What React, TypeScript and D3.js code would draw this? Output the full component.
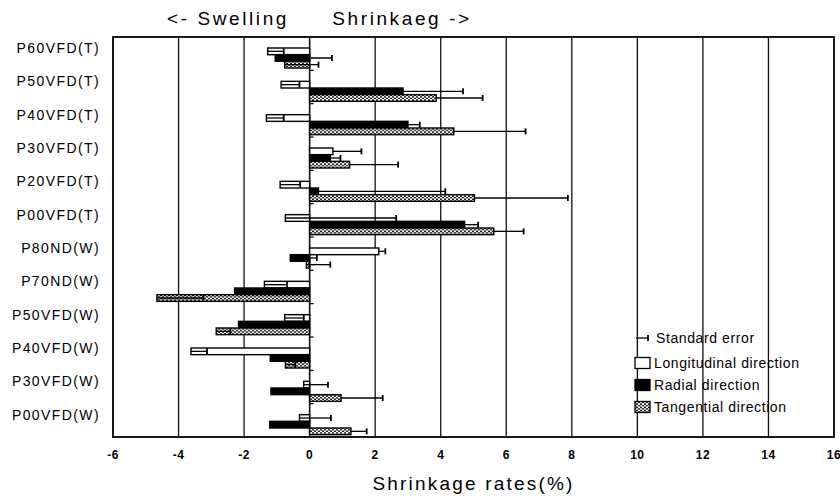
import React from 'react';
import * as d3 from 'd3';

const categories = ['P60VFD(T)', 'P50VFD(T)', 'P40VFD(T)', 'P30VFD(T)', 'P20VFD(T)', 'P00VFD(T)',
  'P80ND(W)', 'P70ND(W)', 'P50VFD(W)', 'P40VFD(W)', 'P30VFD(W)', 'P00VFD(W)'];
const longitudinal = [-1.28, -0.87, -1.32, 0.71, -0.9, -0.74, 2.11, -1.38, -0.76, -3.62, -0.18, -0.31];
const longitudinalErr = [0.49, 0.56, 0.53, 0.87, 0.61, 3.38, 0.2, 0.69, 0.58, 0.49, 0.74, 0.96];
const radial = [-1.05, 2.85, 3.0, 0.63, 0.27, 4.73, -0.59, -2.29, -2.17, -1.2, -1.18, -1.22];
const radialErr = [1.73, 1.83, 0.36, 0.31, 3.87, 0.41, 0.81, 0.5, 0.4, 0.5, 0.3, 0.3];
const tangential = [-0.76, 3.86, 4.4, 1.22, 5.03, 5.62, -0.1, -4.66, -2.85, -0.74, 0.96, 1.26];
const tangentialErr = [1.03, 1.42, 2.19, 1.48, 2.85, 0.91, 0.73, 1.42, 0.43, 0.3, 1.27, 0.48];
const xTicks = [-6, -4, -2, 0, 2, 4, 6, 8, 10, 12, 14, 16];
const seriesNames = ['Longitudinal direction', 'Radial direction', 'Tangential direction'];

const W = 840, H = 496;
const margin = { left: 113, right: 6, top: 37, bottom: 59 };
const font = '"Liberation Sans", Arial, sans-serif';

export default function App() {
  const x = d3.scaleLinear().domain([-6, 16]).range([margin.left, W - margin.right]);
  const y = d3.scaleBand().domain(categories).range([margin.top, H - margin.bottom]);
  const bw = y.bandwidth();
  // bars sit in the lower part of each band
  const sub = d3.scaleBand().domain(seriesNames).range([bw * 0.33, bw * 0.93]);
  const fills = ['#fff', '#000', 'url(#dots)'];
  const series = [
    { name: seriesNames[0], values: longitudinal, err: longitudinalErr },
    { name: seriesNames[1], values: radial, err: radialErr },
    { name: seriesNames[2], values: tangential, err: tangentialErr },
  ];
  const x0 = x(0);
  const top = margin.top, bottom = H - margin.bottom;

  return (
    <svg width={W} height={H} style={{ position: 'absolute', left: 0, top: 0, background: '#fff' }}
      fontFamily={font}>
      <defs>
        <pattern id="dots" width="4" height="3.2" patternUnits="userSpaceOnUse">
          <rect width="4" height="3.2" fill="#fff" />
          <circle cx="1" cy="1" r="1" fill="#111" />
          <circle cx="3" cy="2.6" r="1" fill="#111" />
        </pattern>
      </defs>

      {/* title */}
      <text x={228} y={25} fontSize={19} textAnchor="middle" letterSpacing={2.6}>{'<- Swelling'}</text>
      <text x={402} y={25} fontSize={19} textAnchor="middle" letterSpacing={2.6}>{'Shrinkaeg ->'}</text>

      {/* grid */}
      {xTicks.filter(t => t > -6 && t < 16).map(t => (
        <line key={t} x1={x(t)} x2={x(t)} y1={top} y2={bottom} stroke="#111" strokeWidth={t === 0 ? 1.6 : 1.3} />
      ))}
      <rect x={margin.left} y={top} width={x(16) - margin.left} height={bottom - top}
        fill="none" stroke="#000" strokeWidth={1.8} />

      {/* small ticks on zero line */}
      {categories.slice(0, -1).map(c => (
        <line key={c} x1={x0} x2={x0 + 4} y1={(y(c) as number) + bw} y2={(y(c) as number) + bw} stroke="#000" strokeWidth={1.2} />
      ))}

      {/* bars */}
      {series.map((s, si) => s.values.map((v, i) => {
        const c = categories[i];
        const by = (y(c) as number) + (sub(s.name) as number);
        const bh = sub.bandwidth();
        const xa = x(Math.min(0, v)), xb = x(Math.max(0, v));
        const e1 = x(v), e2 = x(v + s.err[i]);
        const my = by + bh / 2;
        return (
          <g key={si + '-' + i}>
            <rect x={xa} y={by} width={xb - xa} height={bh} fill={fills[si]} stroke="#000" strokeWidth={1.4} />
            <line x1={e1} x2={e2} y1={my} y2={my} stroke="#000" strokeWidth={1.3} />
            <line x1={e2} x2={e2} y1={my - 3} y2={my + 3} stroke="#000" strokeWidth={1.8} />
          </g>
        );
      }))}

      {/* y labels */}
      {categories.map(c => (
        <text key={c} x={100} y={(y(c) as number) + 11} dy="0.35em" fontSize={14} textAnchor="end" letterSpacing={1.4}>{c}</text>
      ))}

      {/* x tick labels */}
      {xTicks.map(t => (
        <text key={t} x={x(t)} y={459} fontSize={12} fontWeight="bold" textAnchor="middle" letterSpacing={0.5}>{t < 0 ? '-' + Math.abs(t) : t}</text>
      ))}
      <text x={x(5)} y={490} fontSize={19} textAnchor="middle" letterSpacing={2.2}>Shrinkage rates(%)</text>

      {/* legend */}
      <g fontSize={14} letterSpacing={0.6}>
        <line x1={636} x2={648} y1={338} y2={338} stroke="#000" strokeWidth={1.3} />
        <line x1={648} x2={648} y1={335} y2={341} stroke="#000" strokeWidth={1.8} />
        <text x={656} y={338} dy="0.35em">Standard error</text>
        {seriesNames.map((n, i) => {
          const ly = 363 + i * 22;
          return (
            <g key={n}>
              <rect x={635} y={ly - 5.5} width={15} height={11} fill={fills[i]} stroke="#000" strokeWidth={1.3} />
              <text x={654} y={ly} dy="0.35em">{n}</text>
            </g>
          );
        })}
      </g>
    </svg>
  );
}
